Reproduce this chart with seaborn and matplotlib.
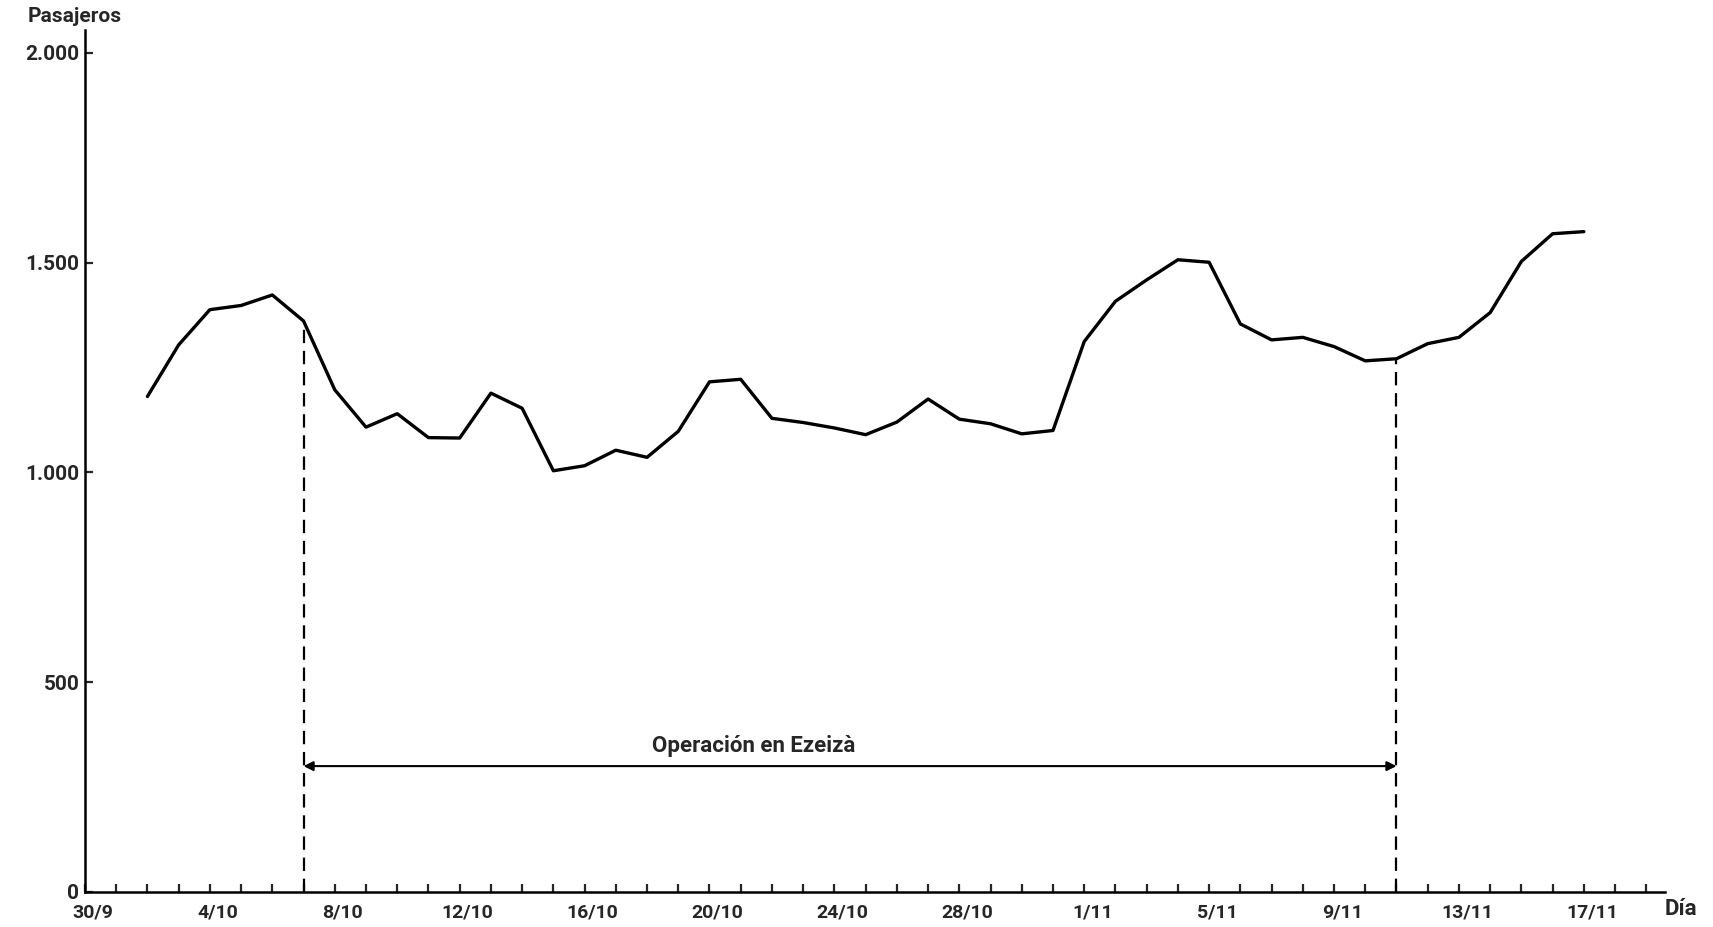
import numpy as np
import pandas as pd
import matplotlib
matplotlib.use('Agg')
import matplotlib.pyplot as plt
import matplotlib.transforms as mtransforms
import seaborn as sns

# Data: daily passengers, day 0 = 30/9
dias = list(range(2, 49))
pasajeros = [1181, 1304, 1388, 1398, 1423, 1361, 1197, 1108, 1140, 1083,
             1082, 1189, 1153, 1004, 1016, 1053, 1036, 1098, 1216, 1222,
             1129, 1119, 1106, 1090, 1120, 1175, 1127, 1116, 1092, 1100,
             1312, 1408, 1459, 1507, 1501, 1354, 1316, 1322, 1300, 1266,
             1271, 1307, 1322, 1381, 1503, 1569, 1574]

etiquetas_dias = [0, 4, 8, 12, 16, 20, 24, 28, 32, 36, 40, 44, 48]
etiquetas_fechas = ['30/9', '4/10', '8/10', '12/10', '16/10', '20/10', '24/10',
                    '28/10', '1/11', '5/11', '9/11', '13/11', '17/11']
y_ticks = [0, 500, 1000, 1500, 2000]
y_labels = ['0', '500', '1.000', '1.500', '2.000']

inicio_operacion = 7
fin_operacion = 42
texto_operacion = 'Operación en Ezeizà'

df = pd.DataFrame({'dia': dias, 'pasajeros': pasajeros})

sns.set_style('ticks')
plt.rcParams['font.family'] = ['Roboto', 'DejaVu Sans']
plt.rcParams['font.weight'] = 'bold'

fig = plt.figure(figsize=(17.13, 9.27), dpi=100)
ax = fig.add_axes([0.0496, 0.0378, 0.9224, 0.930])

sns.lineplot(data=df, x='dia', y='pasajeros', color='black', linewidth=2.4, ax=ax)

# dashed markers for the Ezeiza period
for d in (inicio_operacion, fin_operacion):
    v = df.loc[df['dia'] == d, 'pasajeros'].iloc[0]
    ax.plot([d, d], [0, v], color='black', linewidth=1.6, linestyle=(0, (6, 3.5)))

ax.annotate('', xy=(inicio_operacion, 300), xytext=(fin_operacion, 300),
            arrowprops=dict(arrowstyle='<|-|>', color='black', lw=1.5,
                            mutation_scale=14, shrinkA=0, shrinkB=0))
ax.text(21.4, 322, texto_operacion, ha='center', va='bottom', fontsize=16,
        fontweight='bold')

ax.set_xlim(0, 50.6)
ax.set_ylim(0, 2055)

ax.set_xticks(etiquetas_dias)
ax.set_xticklabels(etiquetas_fechas, fontsize=14, fontweight='bold')
ax.set_xticks(range(0, 51), minor=True)
ax.set_yticks(y_ticks)
ax.set_yticklabels(y_labels, fontsize=15, fontweight='bold')

ax.tick_params(axis='x', which='both', direction='in', length=6, width=1.6, pad=8)
ax.tick_params(axis='y', which='both', direction='in', length=6, width=1.6, pad=4)

offset = mtransforms.ScaledTranslation(8 / 100, 0, fig.dpi_scale_trans)
for lbl in ax.get_xticklabels():
    lbl.set_transform(lbl.get_transform() + offset)

sns.despine(ax=ax, top=True, right=True)
for s in ('left', 'bottom'):
    ax.spines[s].set_linewidth(1.8)
    ax.spines[s].set_color('black')

ax.set_xlabel('')
ax.set_ylabel('')

fig.text(28 / 1713, 1 - 17 / 927, 'Pasajeros', ha='left', va='center',
         fontsize=15, fontweight='bold')
fig.text(1665 / 1713, 1 - 909 / 927, 'Día', ha='left', va='center',
         fontsize=16, fontweight='bold')

fig.savefig('out.png', dpi=100, facecolor='white')
